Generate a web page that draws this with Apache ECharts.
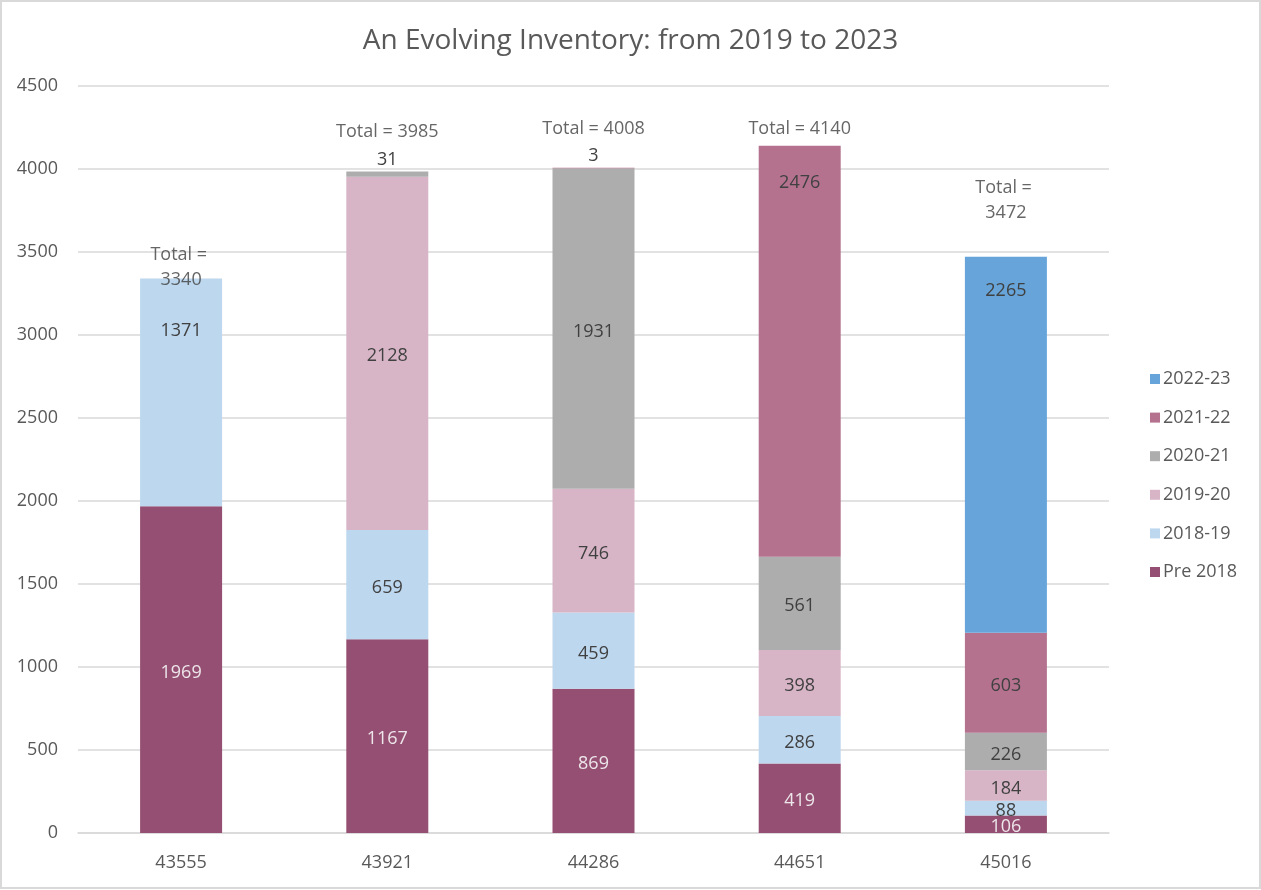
<!DOCTYPE html>
<html>
<head>
<meta charset="utf-8">
<script src="https://cdn.jsdelivr.net/npm/echarts@6/dist/echarts.min.js"></script>
<style>
html,body{margin:0;padding:0;background:#fff;}
#frame{position:absolute;left:0;top:0;width:1257px;height:885px;border:2px solid #D9D9D9;}
#chart{position:absolute;left:0;top:0;width:1261px;height:890px;}
</style>
</head>
<body>
<div id="frame"></div>
<div id="chart"></div>
<script>
const categories = ['43555', '43921', '44286', '44651', '45016'];
const pre2018 = [1969, 1167, 869, 419, 106];
const y2018_19 = [1371, 659, 459, 286, 88];
const y2019_20 = [0, 2128, 746, 398, 184];
const y2020_21 = [0, 31, 1931, 561, 226];
const y2021_22 = [0, 0, 3, 2476, 603];
const y2022_23 = [0, 0, 0, 0, 2265];
const yTicks = [0, 500, 1000, 1500, 2000, 2500, 3000, 3500, 4000, 4500];

const seriesDefs = [
  {name: 'Pre 2018', data: pre2018, color: '#954F72', text: '#EDE6EA'},
  {name: '2018-19', data: y2018_19, color: '#BDD7EE', text: '#404040'},
  {name: '2019-20', data: y2019_20, color: '#D7B5C6', text: '#404040'},
  {name: '2020-21', data: y2020_21, color: '#ADADAD', text: '#404040'},
  {name: '2021-22', data: y2021_22, color: '#B4728F', text: '#404040'},
  {name: '2022-23', data: y2022_23, color: '#66A4D9', text: '#404040'}
];

const totals = categories.map((c, i) => seriesDefs.reduce((s, d) => s + d.data[i], 0));
// label layout tweaks (style only)
const totalOffsets = [-11, -40, -39, -17, -56];
const totalWrap = [true, false, false, false, true];
// labels that sit near the top of their segment: "seriesName|index" -> distance from top
const topLabels = {'2018-19|0': 40, '2021-22|3': 25, '2022-23|4': 22};

const FONT = 'Open Sans';
const FS = 18;
const chart = echarts.init(document.getElementById('chart'));

const barSeries = seriesDefs.map(d => ({
  name: d.name,
  type: 'bar',
  stack: 'total',
  barWidth: 82,
  itemStyle: {color: d.color},
  label: {
    show: true,
    position: 'inside',
    offset: [0, 3],
    color: d.text,
    fontFamily: FONT,
    fontSize: FS,
    formatter: p => p.value === 0 ? '' : String(p.value)
  },
  data: d.data.map((v, i) => {
    if (v > 0 && v < 50) {
      return {value: v, label: {position: 'top', distance: 6, color: '#404040'}};
    }
    const key = d.name + '|' + i;
    if (topLabels[key] !== undefined) {
      return {value: v, label: {position: 'insideTop', distance: topLabels[key]}};
    }
    return v;
  })
}));

const totalSeries = {
  name: 'Total',
  type: 'scatter',
  symbolSize: 0,
  z: 10,
  silent: true,
  data: totals.map((t, i) => ({
    value: [i, t],
    label: {
      show: true,
      position: 'inside',
      offset: [0, totalOffsets[i]],
      formatter: totalWrap[i] ? 'Total = \n' + t : 'Total = ' + t
    }
  })),
  label: {
    show: true,
    color: '#404040',
    fontFamily: FONT,
    fontSize: FS,
    lineHeight: 25
  }
};

chart.setOption({
  animation: false,
  backgroundColor: 'transparent',
  title: {
    text: 'An Evolving Inventory: from 2019 to 2023',
    left: 'center',
    top: 22,
    textStyle: {fontFamily: FONT, fontSize: 28, fontWeight: 'normal', color: '#595959'}
  },
  legend: {
    orient: 'vertical',
    left: 1145,
    top: 365,
    itemWidth: 10,
    itemHeight: 10,
    itemGap: 20.6,
    icon: 'rect',
    data: ['2022-23', '2021-22', '2020-21', '2019-20', '2018-19', 'Pre 2018'],
    textStyle: {fontFamily: FONT, fontSize: FS, color: '#595959', padding: [0, 0, 0, -2]}
  },
  grid: {left: 78, right: 152, top: 86, bottom: 57, containLabel: false},
  xAxis: {
    type: 'category',
    data: categories,
    axisTick: {show: false},
    axisLine: {lineStyle: {color: '#D9D9D9', width: 1.5}},
    axisLabel: {fontFamily: FONT, fontSize: FS, color: '#595959', margin: 21}
  },
  yAxis: {
    type: 'value',
    min: yTicks[0],
    max: yTicks[yTicks.length - 1],
    interval: 500,
    axisLine: {show: false},
    axisTick: {show: false},
    splitLine: {lineStyle: {color: '#D9D9D9', width: 1.5}},
    axisLabel: {fontFamily: FONT, fontSize: FS, color: '#595959', margin: 20, padding: [4, 0, 0, 0], formatter: v => String(v)}
  },
  series: [...barSeries, totalSeries]
});
</script>
</body>
</html>
